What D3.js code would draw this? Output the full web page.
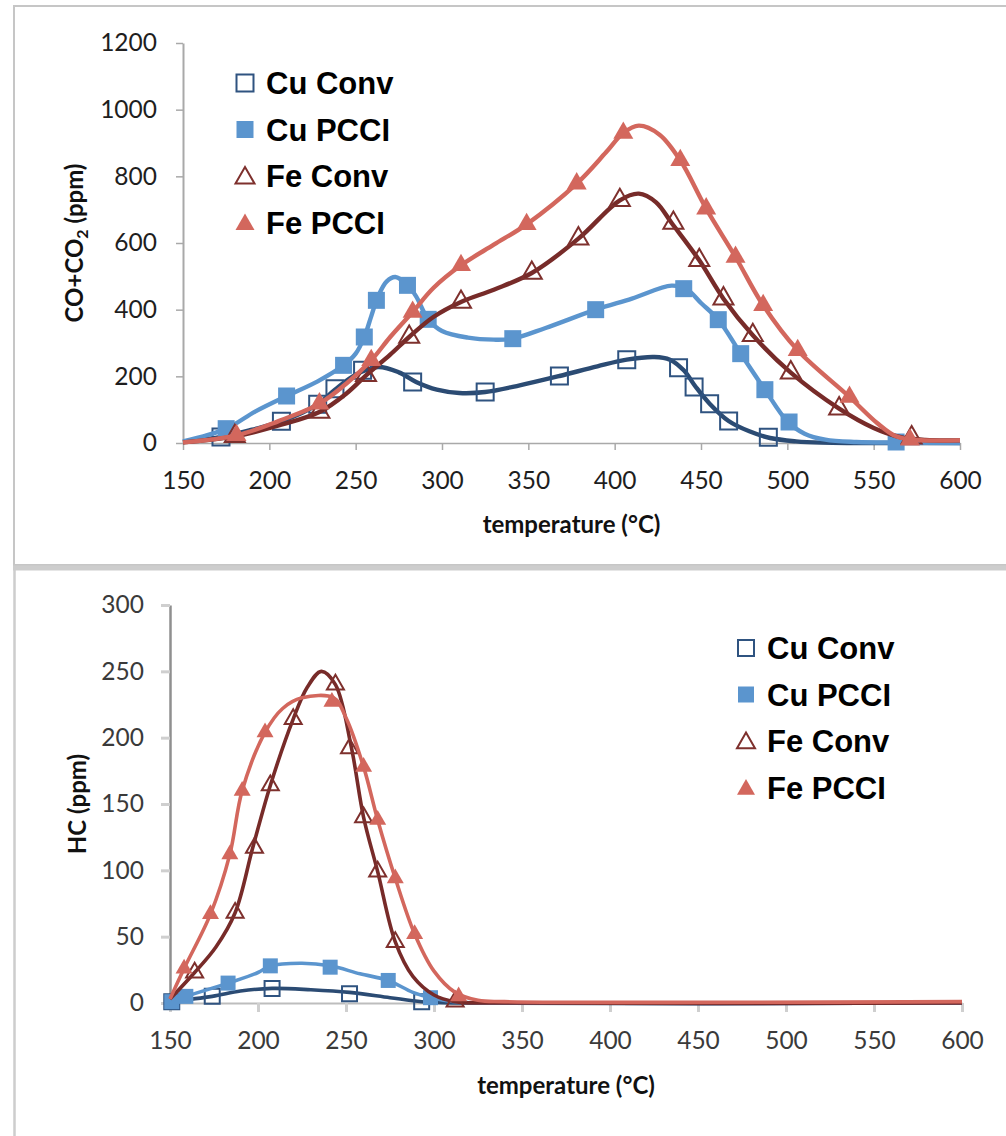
<!DOCTYPE html>
<html>
<head>
<meta charset="utf-8">
<script src="https://cdn.jsdelivr.net/npm/d3@7"></script>
<style>
  html, body { margin: 0; padding: 0; background: #fff; }
  svg { display: block; }
</style>
</head>
<body>
<svg id="chart" width="1006" height="1136"></svg>
<script>
"use strict";

// ── data ─────────────────────────────────────────────────────────────────────
const seriesNames = ["Cu Conv", "Cu PCCI", "Fe Conv", "Fe PCCI"];
const tempTicks   = [150, 200, 250, 300, 350, 400, 450, 500, 550, 600];
const coTicks     = [0, 200, 400, 600, 800, 1000, 1200];
const hcTicks     = [0, 50, 100, 150, 200, 250, 300];

// CO+CO2 panel: traced curve [temp, ppm] and marker points
const coCuConvLine = [[150,3],[172,18],[190,40],[207,65],[228,116],[238,160],[250,205],[263,228],[275,212],[285,183],[297,160],[310,150],[325,153],[345,173],[368,201],[390,230],[407,250],[423,258],[432,250],[440,218],[447,168],[455,118],[466,66],[478,35],[490,15],[505,5],[520,1],[540,0],[600,0]];
const coCuConvPts  = [[172,18],[207,65],[228,116],[238,163],[254,218],[283,183],[325,153],[368,201],[407,250],[437,226],[446,168],[455,118],[466,66],[489,17]];

const coCuPcciLine = [[150,5],[175,43],[192,95],[210,141],[228,185],[243,233],[250,268],[255,318],[259,380],[263,440],[268,485],[273,498],[280,474],[285,440],[292,371],[300,336],[315,316],[330,310],[341,313],[360,345],[389,400],[410,433],[433,472],[442,460],[450,420],[460,370],[473,268],[487,160],[500,65],[510,28],[522,10],[540,3],[563,1],[600,0]];
const coCuPcciPts  = [[175,43],[210,141],[243,233],[255,318],[262,428],[280,473],[292,371],[341,313],[389,400],[440,463],[460,370],[473,268],[487,160],[501,63],[563,3]];

const coFeConvLine = [[150,2],[180,20],[205,52],[229,93],[245,150],[256,203],[270,265],[281,318],[295,378],[311,423],[330,460],[352,510],[379,613],[403,728],[414,748],[424,722],[433,660],[449,548],[463,433],[480,323],[502,211],[530,103],[550,45],[565,18],[580,9],[600,8]];
const coFeConvPts  = [[180,20],[229,93],[256,203],[281,318],[311,423],[352,510],[379,613],[403,728],[434,660],[449,548],[463,433],[480,323],[502,211],[530,103],[572,16]];

const coFePcciLine = [[150,2],[181,23],[205,65],[229,118],[245,180],[259,248],[270,318],[283,393],[295,465],[311,533],[330,595],[349,656],[378,778],[395,872],[405,930],[414,952],[426,925],[438,848],[453,703],[470,558],[486,413],[506,278],[536,138],[552,60],[563,20],[575,9],[600,8]];
const coFePcciPts  = [[181,23],[229,118],[259,248],[283,393],[311,533],[349,656],[378,778],[405,930],[438,848],[453,703],[470,558],[486,413],[506,278],[536,138],[571,10]];

// HC panel
const hcCuConvLine = [[150,1],[174,5],[190,9],[208,11],[230,10],[252,8],[275,4],[293,1],[310,0],[600,0]];
const hcCuConvPts  = [[151,1],[174,5],[208,11],[252,7],[293,1]];

const hcCuPcciLine = [[150,1],[159,5],[183,15],[200,23],[207,28],[225,30],[241,28],[258,22],[274,17],[288,8],[298,4],[312,1],[330,0],[600,0]];
const hcCuPcciPts  = [[151,1],[159,5],[183,15],[207,28],[241,27],[274,17],[298,4]];

const hcFeConvLine = [[150,3],[164,23],[176,42],[187,68],[197,117],[207,164],[220,214],[228,238],[236,250],[244,240],[253,193],[260,140],[268,99],[278,46],[288,20],[300,6],[312,1],[330,0],[600,0]];
const hcFeConvPts  = [[164,23],[187,68],[198,117],[207,164],[220,214],[244,240],[252,192],[260,140],[268,99],[278,46],[312,1]];

const hcFePcciLine = [[150,3],[158,26],[173,67],[184,112],[191,160],[204,204],[214,222],[225,230],[243,230],[250,215],[260,178],[268,138],[278,94],[289,52],[300,24],[312,8],[325,2],[340,1],[600,1]];
const hcFePcciPts  = [[158,26],[173,67],[184,112],[191,160],[204,204],[242,227],[260,178],[268,138],[278,94],[289,52],[314,5]];

// ── styles ───────────────────────────────────────────────────────────────────
const SERIES_STYLE = [
  { line: "#2b4b73", stroke: "#2f5380", fill: "none",    shape: d3.symbolSquare },
  { line: "#5b95ce", stroke: "#5b95ce", fill: "#5b95ce", shape: d3.symbolSquare },
  { line: "#772b29", stroke: "#7e302d", fill: "none",    shape: d3.symbolTriangle },
  { line: "#d3675d", stroke: "#d3675d", fill: "#d3675d", shape: d3.symbolTriangle },
];

const TICK_FONT   = "Lato, 'Open Sans', sans-serif";
const LEGEND_FONT = "'Liberation Sans', Arial, sans-serif";

const svg = d3.select("#chart");

// frames around the two pasted panels
svg.append("rect").attr("x", 14).attr("y", 6).attr("width", 1000).attr("height", 559)
  .attr("fill", "none").attr("stroke", "#c6c6c6").attr("stroke-width", 2);
svg.append("line").attr("x1", 13).attr("x2", 1006).attr("y1", 568).attr("y2", 568)
  .attr("stroke", "#cdcdcd").attr("stroke-width", 5);
svg.append("line").attr("x1", 14.5).attr("x2", 14.5).attr("y1", 566).attr("y2", 1136)
  .attr("stroke", "#cdcdcd").attr("stroke-width", 2.5);

// marker area for a given side length
function squareArea(s) { return s * s; }
function triangleArea(s) { return Math.sqrt(3) / 4 * s * s; }

// ── panel renderer ───────────────────────────────────────────────────────────
function drawPanel(p) {
  const x = d3.scaleLinear().domain([150, 600]).range(p.xRange);
  const y = d3.scaleLinear().domain([0, p.yMax]).range(p.yRange);
  const g = svg.append("g");

  // axes
  g.append("g").attr("transform", `translate(0,${p.yRange[0]})`)
    .call(d3.axisBottom(x).tickValues(tempTicks).tickFormat(d3.format("d"))
      .tickSize(p.tickLen).tickPadding(p.xPad).tickSizeOuter(0))
    .call(ax => {
      ax.select(".domain").attr("stroke", p.xAxisColor).attr("stroke-width", p.axisW);
      ax.selectAll(".tick line").attr("stroke", p.tickColor).attr("stroke-width", p.tickW);
      ax.selectAll("text").attr("fill", p.labelColor).attr("font-size", p.labelSize)
        .attr("font-family", TICK_FONT);
    });

  g.append("g").attr("transform", `translate(${p.xRange[0]},0)`)
    .call(d3.axisLeft(y).tickValues(p.yTicks).tickFormat(d3.format("d"))
      .tickSize(p.tickLen).tickPadding(p.yPad).tickSizeOuter(0))
    .call(ax => {
      ax.select(".domain").attr("stroke", p.yAxisColor).attr("stroke-width", p.axisW + 0.5);
      ax.selectAll(".tick line").attr("stroke", p.tickColor).attr("stroke-width", p.tickW);
      ax.selectAll("text").attr("fill", p.labelColor).attr("font-size", p.labelSize)
        .attr("font-family", TICK_FONT);
    });

  // series: curve then markers, in legend order
  const line = d3.line()
    .x(d => x(d[0]))
    .y(d => y(d[1]))
    .curve(d3.curveCatmullRom.alpha(0.5));

  p.series.forEach((s, i) => {
    const st = SERIES_STYLE[i];
    g.append("path").datum(s.line)
      .attr("fill", "none")
      .attr("stroke", st.line)
      .attr("stroke-width", p.lineW)
      .attr("stroke-linejoin", "round")
      .attr("d", line);

    const isTri = st.shape === d3.symbolTriangle;
    const size = isTri ? triangleArea(p.triSide) : squareArea(p.sqSide);
    g.selectAll(null).data(s.pts).enter().append("path")
      .attr("transform", d => `translate(${x(d[0])},${y(d[1])})`)
      .attr("d", d3.symbol(st.shape, size))
      .attr("fill", st.fill)
      .attr("stroke", st.stroke)
      .attr("stroke-width", st.fill === "none" ? 2 : 0);
  });

  // legend
  const lg = g.append("g").attr("transform", `translate(${p.legend.x},${p.legend.y})`);
  seriesNames.forEach((name, i) => {
    const st = SERIES_STYLE[i];
    const isTri = st.shape === d3.symbolTriangle;
    const cy = i * p.legend.row;
    lg.append("path")
      .attr("transform", `translate(0,${cy + (isTri ? 2 : 0)})`)
      .attr("d", d3.symbol(st.shape, isTri ? triangleArea(p.legend.mk + 1) : squareArea(p.legend.mk - 1)))
      .attr("fill", st.fill)
      .attr("stroke", st.stroke)
      .attr("stroke-width", st.fill === "none" ? 2 : 0);
    lg.append("text")
      .attr("x", 21).attr("y", cy + 11)
      .attr("font-family", LEGEND_FONT).attr("font-weight", "bold")
      .attr("font-size", 31).attr("fill", "#000")
      .text(name);
  });

  // axis titles
  g.append("text")
    .attr("x", (p.xRange[0] + p.xRange[1]) / 2).attr("y", p.xTitleY)
    .attr("text-anchor", "middle")
    .attr("font-family", TICK_FONT).attr("font-weight", "bold")
    .attr("font-size", 24).attr("fill", "#111")
    .text("temperature (°C)");

  const yt = g.append("text")
    .attr("transform", `translate(${p.yTitleX},${(p.yRange[0] + p.yRange[1]) / 2}) rotate(-90)`)
    .attr("text-anchor", "middle")
    .attr("font-family", TICK_FONT).attr("font-weight", "bold")
    .attr("font-size", 24).attr("fill", "#111");
  p.yTitle(yt);
}

// ── top panel: CO + CO2 ──────────────────────────────────────────────────────
drawPanel({
  xRange: [183, 960], yRange: [443, 43], yMax: 1200, yTicks: coTicks,
  tickLen: 7, tickW: 1.5, axisW: 1.5, xPad: 22, yPad: 19,
  xAxisColor: "#a9a9a9", yAxisColor: "#a9a9a9", tickColor: "#a9a9a9",
  labelColor: "#1e1e1e", labelSize: 24.5,
  lineW: 4.4, sqSide: 17, triSide: 20,
  legend: { x: 245, y: 83, row: 46.5, mk: 18 },
  xTitleY: 533, yTitleX: 83,
  yTitle: t => {
    t.append("tspan").text("CO+CO");
    t.append("tspan").attr("font-size", 16).attr("dy", 5).text("2");
    t.append("tspan").attr("dy", -5).text(" (ppm)");
  },
  series: [
    { line: coCuConvLine, pts: coCuConvPts },
    { line: coCuPcciLine, pts: coCuPcciPts },
    { line: coFeConvLine, pts: coFeConvPts },
    { line: coFePcciLine, pts: coFePcciPts },
  ],
});

// ── bottom panel: HC ─────────────────────────────────────────────────────────
drawPanel({
  xRange: [170, 962], yRange: [1003, 605], yMax: 300, yTicks: hcTicks,
  tickLen: 9, tickW: 3, axisW: 2, xPad: 20, yPad: 17,
  xAxisColor: "#bdbdbd", yAxisColor: "#8f8f8f", tickColor: "#cfcfcf",
  labelColor: "#3a3a3a", labelSize: 24.5,
  lineW: 3.6, sqSide: 15, triSide: 17,
  legend: { x: 746, y: 648, row: 46.5, mk: 17 },
  xTitleY: 1094, yTitleX: 86,
  yTitle: t => t.text("HC (ppm)"),
  series: [
    { line: hcCuConvLine, pts: hcCuConvPts },
    { line: hcCuPcciLine, pts: hcCuPcciPts },
    { line: hcFeConvLine, pts: hcFeConvPts },
    { line: hcFePcciLine, pts: hcFePcciPts },
  ],
});
</script>
</body>
</html>
